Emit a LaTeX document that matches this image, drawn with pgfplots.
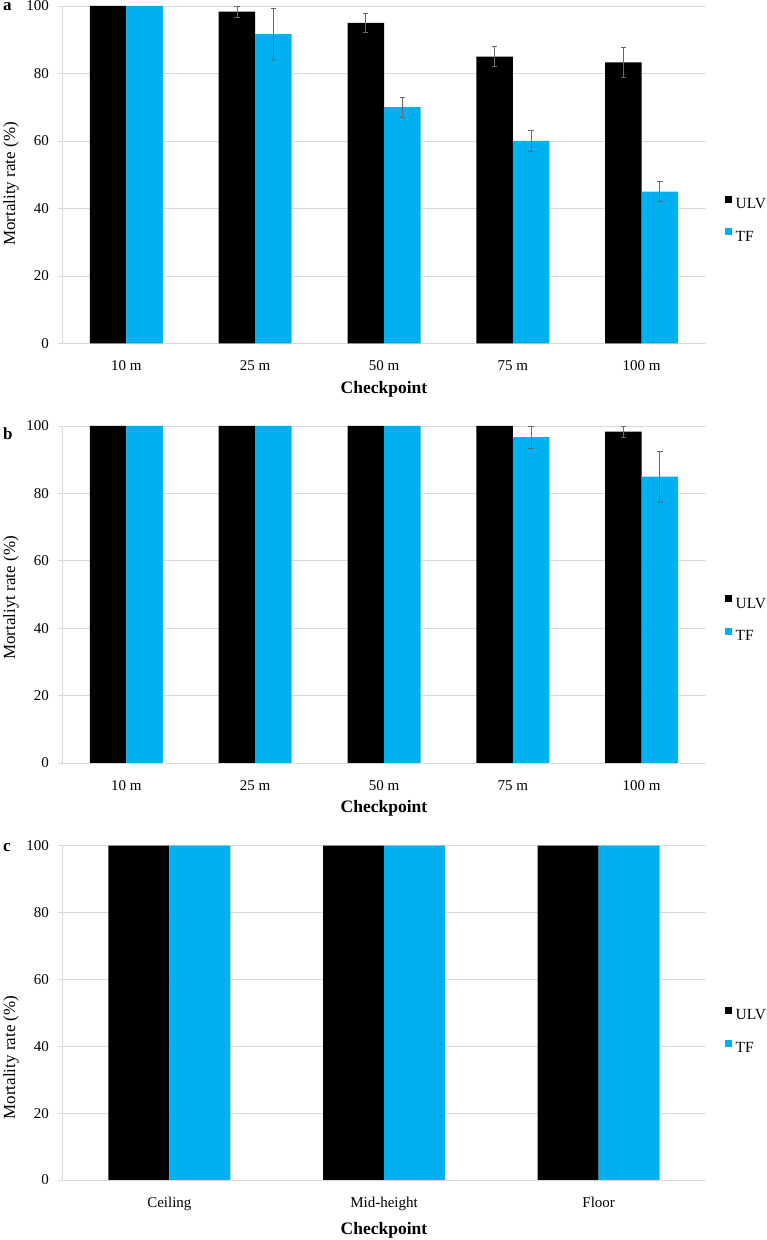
\documentclass[border=0pt]{standalone}
\usepackage{pgfplots}
\pgfplotsset{compat=1.18}
\usepackage{pgfplotstable}
\usepackage{fontspec}
\setmainfont{Liberation Serif}
\definecolor{tfblue}{RGB}{0,176,240}
\definecolor{gridgray}{RGB}{217,217,217}
\definecolor{errgray}{RGB}{105,105,105}

% panel a
\pgfplotstableread{
x ulv tf
0 100  100
1 98.3 91.7
2 95   70
3 85   60
4 83.3 45
}\dataA
\pgfplotstableread{
x v e
1 98.3 1.7
2 95 2.9
3 85 2.9
4 83.3 4.4
}\errAulv
\pgfplotstableread{
x v e
1 91.7 7.7
2 70 3
3 60 3
4 45 2.9
}\errAtf
% panel b
\pgfplotstableread{
x ulv tf
0 100  100
1 100  100
2 100  100
3 100  96.7
4 98.3 85
}\dataB
\pgfplotstableread{
x v e
4 98.3 1.7
}\errBulv
\pgfplotstableread{
x v e
3 96.7 3.3
4 85 7.6
}\errBtf
% panel c
\pgfplotstableread{
x ulv tf
0 100 100
1 100 100
2 100 100
}\dataC

\pgfplotsset{
  panel/.style={
    scale only axis, ymin=0, ymax=100, ytick={0,20,40,60,80,100},
    axis x line*=bottom, axis y line*=left,
    axis line style={draw=gridgray, line width=0.8pt, -},
    ymajorgrids, grid style={draw=gridgray, line width=0.8pt},
    xtick style={draw=none},
    ytick style={draw=gridgray, line width=0.8pt},
    tick align=outside, major tick length=4pt,
    ticklabel style={font=\fontsize{15}{17}\selectfont},
    yticklabel style={anchor=east, inner sep=0pt, xshift=-9pt},
    xticklabel style={anchor=base, inner sep=0pt, yshift=-23.5pt},
    /pgf/number format/assume math mode=true,
    xlabel={Checkpoint},
    xlabel style={font=\bfseries\fontsize{17.5}{20}\selectfont, anchor=north, inner sep=0pt},
    ylabel style={font=\fontsize{17}{20}\selectfont, anchor=center, inner sep=0pt},
    ybar,
    legend style={draw=none, fill=none, anchor=west, inner sep=0pt,
      font=\fontsize{15.5}{18}\selectfont, row sep=20pt,
      nodes={inner sep=0pt, text height=10.5pt, text depth=0pt}},
    legend cell align=left,
  },
  sq legend/.style={legend image code/.code={\fill[##1] (0pt,0.6pt) rectangle (7pt,7.6pt); \path (10.5pt,0pt);}},
  errplot/.style={fill=none, draw=none, forget plot,
    error bars/.cd, y dir=both, y explicit,
    error bar style={draw=errgray, line width=0.8pt},
    error mark options={rotate=90, mark size=2.7pt, line width=0.8pt, draw=errgray}},
}

\begin{document}
\begin{tikzpicture}
\useasboundingbox (0,0) rectangle (767pt,1240pt);

% ---------- panel a ----------
\begin{axis}[panel, at={(62pt,896.5pt)}, anchor=south west,
  width=644pt, height=337.5pt,
  xmin=-0.5, xmax=4.5, xtick={0,1,2,3,4},
  xticklabels={10 m,25 m,50 m,75 m,100 m},
  bar width=36.5pt,
  ylabel={Mortality rate (\%)},
  ylabel style={at={(axis description cs:-0.0792,0.4726)}},
  xlabel style={at={(axis description cs:0.5,0)}, yshift=-37.5pt},
  legend style={at={(axis description cs:1.0295,0.3704)}},
]
\addplot[fill=black, draw=none, bar shift=-18.25pt, sq legend] table[x=x, y=ulv] {\dataA};
\addlegendentry{ULV}
\addplot[fill=tfblue, draw=none, bar shift=18.25pt, sq legend] table[x=x, y=tf] {\dataA};
\addlegendentry{TF}
\addplot[bar shift=-18.25pt, errplot] table[x=x, y=v, y error=e] {\errAulv};
\addplot[bar shift=18.25pt, errplot] table[x=x, y=v, y error=e] {\errAtf};
\end{axis}

% ---------- panel b ----------
\begin{axis}[panel, at={(62pt,477pt)}, anchor=south west,
  width=644pt, height=337pt,
  xmin=-0.5, xmax=4.5, xtick={0,1,2,3,4},
  xticklabels={10 m,25 m,50 m,75 m,100 m},
  bar width=36.5pt,
  ylabel={Mortaliyt rate (\%)},
  ylabel style={at={(axis description cs:-0.0792,0.4896)}},
  xlabel style={at={(axis description cs:0.5,0)}, yshift=-37pt},
  legend style={at={(axis description cs:1.0295,0.430)}},
]
\addplot[fill=black, draw=none, bar shift=-18.25pt, sq legend] table[x=x, y=ulv] {\dataB};
\addlegendentry{ULV}
\addplot[fill=tfblue, draw=none, bar shift=18.25pt, sq legend] table[x=x, y=tf] {\dataB};
\addlegendentry{TF}
\addplot[bar shift=-18.25pt, errplot] table[x=x, y=v, y error=e] {\errBulv};
\addplot[bar shift=18.25pt, errplot] table[x=x, y=v, y error=e] {\errBtf};
\end{axis}

% ---------- panel c ----------
\begin{axis}[panel, at={(62pt,60pt)}, anchor=south west,
  width=644pt, height=334.3pt,
  xmin=-0.5, xmax=2.5, xtick={0,1,2},
  xticklabels={Ceiling,Mid-height,Floor},
  bar width=61pt,
  ylabel={Mortality rate (\%)},
  ylabel style={at={(axis description cs:-0.0792,0.3664)}},
  xlabel style={at={(axis description cs:0.5,0)}, yshift=-42pt},
  legend style={at={(axis description cs:1.0295,0.449)}},
]
\addplot[fill=black, draw=none, bar shift=-30.5pt, sq legend] table[x=x, y=ulv] {\dataC};
\addlegendentry{ULV}
\addplot[fill=tfblue, draw=none, bar shift=30.5pt, sq legend] table[x=x, y=tf] {\dataC};
\addlegendentry{TF}
\end{axis}

% panel letters
\node[anchor=base west, inner sep=0pt, font=\bfseries\fontsize{17}{20}\selectfont] at (3pt,1229pt) {a};
\node[anchor=base west, inner sep=0pt, font=\bfseries\fontsize{17}{20}\selectfont] at (3pt,800pt) {b};
\node[anchor=base west, inner sep=0pt, font=\bfseries\fontsize{17}{20}\selectfont] at (3pt,388pt) {c};
\end{tikzpicture}
\end{document}
